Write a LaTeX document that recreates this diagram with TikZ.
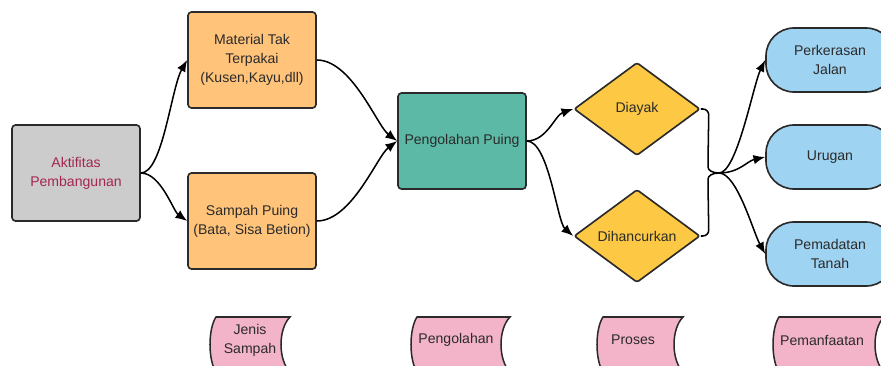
\documentclass[tikz,border=0pt]{standalone}
\usepackage{fontspec}
\setmainfont{Liberation Sans}
\usetikzlibrary{arrows.meta,shapes.geometric,calc}

\definecolor{txt}{HTML}{2B2B2B}
\definecolor{edge}{HTML}{2A2A2A}
\definecolor{grayfill}{HTML}{CCCCCC}
\definecolor{orangefill}{HTML}{FFC37A}
\definecolor{tealfill}{HTML}{5CB9A5}
\definecolor{yellowfill}{HTML}{FDC843}
\definecolor{bluefill}{HTML}{9FD3F2}
\definecolor{pinkfill}{HTML}{F3B3C9}
\definecolor{crimson}{HTML}{A3284F}

\def\pu{0.03cm}

\tikzset{
  every node/.style={font=\fontsize{12}{16}\selectfont, text=txt, align=center},
  stepbox/.style={draw=edge, line width=1.4pt, rounded corners=3pt,
    minimum width=128*\pu, minimum height=96*\pu, inner sep=2pt},
  choice/.style={draw=edge, line width=1.4pt, diamond, rounded corners=2pt,
    fill=yellowfill, minimum width=126*\pu, minimum height=93*\pu, inner sep=0pt},
  usebox/.style={draw=edge, line width=1.4pt, fill=bluefill, rounded corners=28*\pu,
    minimum width=128*\pu, minimum height=64*\pu},
  tagshape/.style={draw=edge, line width=1.3pt, fill=pinkfill},
  conn/.style={draw=black, line width=1.3pt, -{Latex[length=10pt,width=8pt]}},
  link/.style={draw=black, line width=1.3pt},
}

\begin{document}
\begin{tikzpicture}[x=\pu, y=-\pu]
  \clip (0,0) rectangle (881,365);
  \fill[white] (0,0) rectangle (881,365);

  % source and waste types
  \node[stepbox, fill=grayfill, text=crimson] (A) at (76,173) {Aktifitas\\Pembangunan};
  \node[stepbox, fill=orangefill] (M) at (252,60) {Material Tak\\Terpakai\\(Kusen,Kayu,dll)};
  \node[stepbox, fill=orangefill] (S) at (252,221) {Sampah Puing\\(Bata, Sisa Betion)};

  % processing
  \node[stepbox, fill=tealfill] (P) at (462,141) {Pengolahan Puing};

  % process choices
  \node[choice] (D1) at (637,109) {Diayak};
  \node[choice] (D2) at (637,236) {Dihancurkan};

  % merge point
  \coordinate (J) at (719,173);

  % uses
  \node[usebox] (U1) at (830,60) {Perkerasan\\Jalan};
  \node[usebox] (U2) at (830,157) {Urugan};
  \node[usebox] (U3) at (830,254) {Pemadatan\\Tanah};

  % connectors
  \draw[conn] (A.east) .. controls +(22,0) and +(-16,28) .. (M.west);
  \draw[conn] (A.east) .. controls +(20,0) and +(-14,-10) .. (S.west);
  \draw[conn] (M.east) .. controls +(35,0) and +(-20,-15) .. (P.west);
  \draw[conn] (S.east) .. controls +(35,0) and +(-20,15) .. (P.west);
  \draw[conn] (P.east) .. controls +(20,0) and +(-18,6) .. (D1.west);
  \draw[conn] (P.east) .. controls +(22,0) and +(-16,-14) .. (D2.west);

  \draw[link, rounded corners=6*\pu] (D1.east) -- ++(8,0) -- ($(J)+(-11,-12)$)
    .. controls +(0,9) and +(-7,0) .. (J);
  \draw[link, rounded corners=6*\pu] (D2.east) -- ++(8,0) -- ($(J)+(-11,12)$)
    .. controls +(0,-9) and +(-7,0) .. (J);

  \draw[conn] (J) .. controls +(18,0) and +(-12,25) .. (U1.west);
  \draw[conn] (J) .. controls +(20,0) and +(-18,4) .. (U2.west);
  \draw[conn] (J) .. controls +(18,0) and +(-12,-22) .. (U3.west);

  % column labels (stored-data shapes)
  \foreach \L/\R/\cx/\tx/\nm in {216/290/250/{Jenis\\Sampah}/T1,
                                  417/510/456/{Pengolahan}/T2,
                                  603/683/633/{Proses}/T3,
                                  779/884/822/{Pemanfaatan}/T4}{
    \path[tagshape] (\L,317) -- (\R,317)
      .. controls (\R-12,329) and (\R-12,360) .. (\R,372)
      -- (\L,372)
      .. controls (\L-8,360) and (\L-8,329) .. (\L,317) -- cycle;
    \node[inner sep=0pt] (\nm) at (\cx,340) {\tx};
  }
\end{tikzpicture}
\end{document}
